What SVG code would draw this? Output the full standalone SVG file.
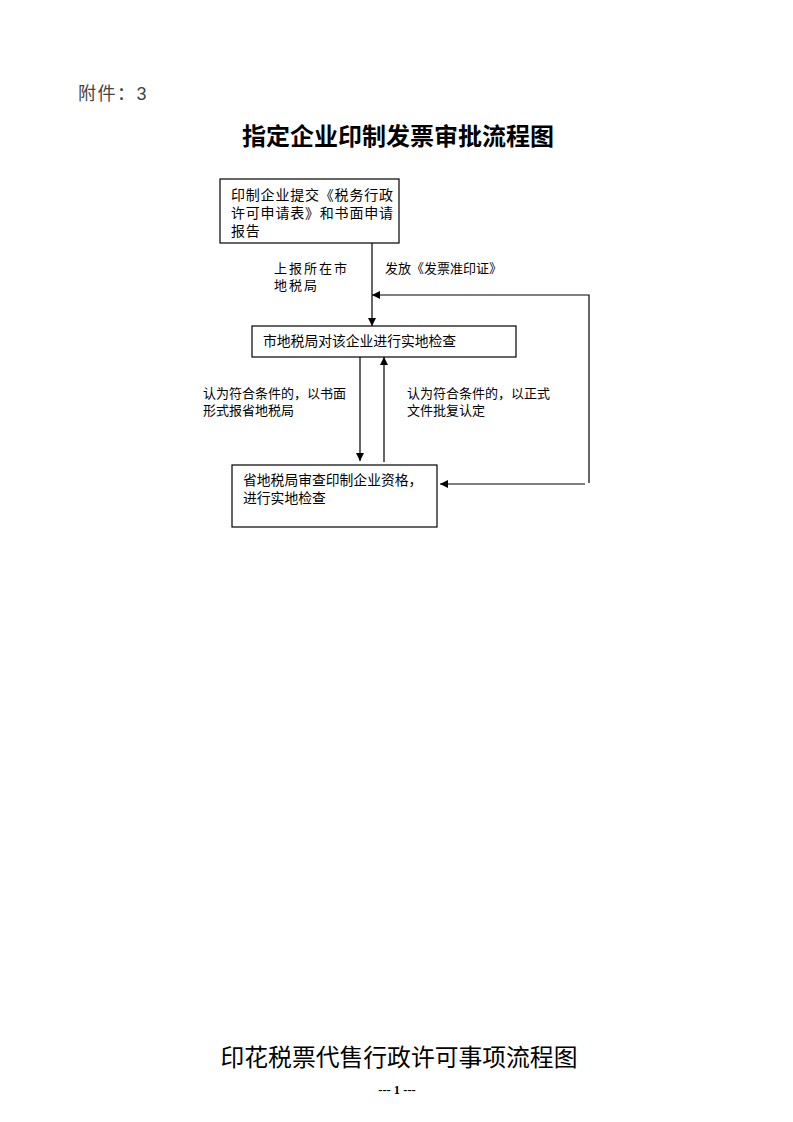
<svg xmlns="http://www.w3.org/2000/svg" width="793" height="1122" viewBox="0 0 793 1122">
<style>
.t{font-family:"Liberation Sans","Noto Sans CJK SC",sans-serif;fill:#000}
.s{font-size:13px}
.b{fill:#fff;stroke:#000;stroke-width:1.2}
.c{stroke:#000;stroke-width:1.2;fill:none}
</style>
<defs>
<marker id="ar" viewBox="0 0 10 10" refX="10" refY="5" markerWidth="8" markerHeight="8" markerUnits="userSpaceOnUse" orient="auto">
<path d="M0,0L10,5L0,10z" fill="#000"/>
</marker>
</defs>
<rect width="793" height="1122" fill="#fff"/>
<text class="t" x="78" y="100" font-size="18" letter-spacing="1.5" style="fill:#444">附件：3</text>
<text class="t" x="398" y="145" font-size="24" font-weight="bold" text-anchor="middle">指定企业印制发票审批流程图</text>
<g id="n1">
<rect class="b" x="220" y="179" width="179" height="64"/>
<text class="t" font-size="14" letter-spacing="0.8"><tspan x="231" y="200">印制企业提交《税务行政</tspan><tspan x="231" y="218">许可申请表》和书面申请</tspan><tspan x="231" y="236">报告</tspan></text>
</g>
<g id="n2">
<rect class="b" x="252" y="326" width="264" height="31"/>
<text class="t" font-size="13.8" x="263" y="346">市地税局对该企业进行实地检查</text>
</g>
<g id="n3">
<rect class="b" x="232" y="465" width="205" height="62"/>
<text class="t" font-size="13.8"><tspan x="243" y="485">省地税局审查印制企业资格，</tspan><tspan x="243" y="503">进行实地检查</tspan></text>
</g>
<g id="connectors">
<line class="c" x1="372" y1="243" x2="372" y2="326" marker-end="url(#ar)"/>
<polyline class="c" points="589,483 589,295 372,295" marker-end="url(#ar)"/>
<line class="c" x1="585" y1="484" x2="440" y2="484" marker-end="url(#ar)"/>
<line class="c" x1="360" y1="357" x2="360" y2="461" marker-end="url(#ar)"/>
<line class="c" x1="384" y1="462" x2="384" y2="357" marker-end="url(#ar)"/>
</g>
<g id="labels">
<text class="t s" letter-spacing="2"><tspan x="274" y="273">上报所在市</tspan><tspan x="274" y="290">地税局</tspan></text>
<text class="t s" x="385" y="273">发放《发票准印证》</text>
<text class="t s"><tspan x="203" y="398">认为符合条件的，以书面</tspan><tspan x="203" y="415">形式报省地税局</tspan></text>
<text class="t s"><tspan x="407" y="398">认为符合条件的，以正式</tspan><tspan x="407" y="415">文件批复认定</tspan></text>
</g>
<text class="t" x="399" y="1066" font-size="23.8" text-anchor="middle">印花税票代售行政许可事项流程图</text>
<text x="397" y="1094" font-family="Liberation Serif,serif" font-size="12.5" font-weight="bold" text-anchor="middle">--- 1 ---</text>
</svg>
